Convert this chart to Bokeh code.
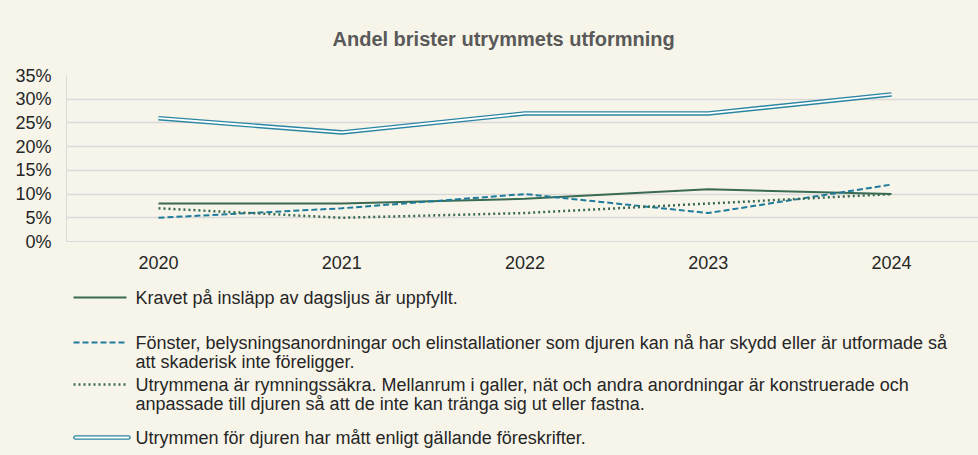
from bokeh.plotting import figure
from bokeh.layouts import column
from bokeh.models import Range1d, FixedTicker, NumeralTickFormatter, Title
from bokeh.core.properties import value
from bokeh.embed import file_html
from bokeh.resources import INLINE

years = [2020, 2021, 2022, 2023, 2024]
kravet = [8, 8, 9, 11, 10]
fonster = [5, 7, 10, 6, 12]
rymning = [7, 5, 6, 8, 10]
matt = [26, 23, 27, 27, 31]
y_ticks = [0, 5, 10, 15, 20, 25, 30, 35]

labels = [
    ["Kravet på insläpp av dagsljus är uppfyllt."],
    ["Fönster, belysningsanordningar och elinstallationer som djuren kan nå har skydd eller är utformade så",
     "att skaderisk inte föreligger."],
    ["Utrymmena är rymningssäkra. Mellanrum i galler, nät och andra anordningar är konstruerade och",
     "anpassade till djuren så att de inte kan tränga sig ut eller fastna."],
    ["Utrymmen för djuren har mått enligt gällande föreskrifter."],
]
title_text = "Andel brister utrymmets utformning"

BG = "#F7F5EA"
GREEN = "#3A6B52"
BLUE = "#1E7B9C"
BLUE2 = "#2A86A2"
GRID = "#D9D9D9"
FONT = "Liberation Sans"
W = 978

def pct(vals):
    return [v / 100 for v in vals]

p = figure(width=W, height=275, x_range=Range1d(2019.498, 2024.475), y_range=Range1d(0, 0.35),
           output_backend="svg", toolbar_location=None,
           background_fill_color=BG, border_fill_color=BG,
           min_border_left=66, min_border_right=0, min_border_top=74, min_border_bottom=34)
p.outline_line_color = None
p.title = Title(text=title_text, align="left", text_font=FONT, text_font_size="20px",
                text_font_style="bold", text_color="#595959", offset=266, standoff=51)

p.xaxis.ticker = FixedTicker(ticks=years)
p.xaxis.axis_line_color = GRID
p.xaxis.major_tick_line_color = None
p.xaxis.minor_tick_line_color = None
p.xaxis.major_label_standoff = 8
p.xaxis.major_label_text_font = FONT
p.xaxis.major_label_text_font_size = "18px"
p.xaxis.major_label_text_color = "#262626"

p.yaxis.ticker = FixedTicker(ticks=[t / 100 for t in y_ticks])
p.yaxis.formatter = NumeralTickFormatter(format="0%")
p.yaxis.axis_line_color = GRID
p.yaxis.major_tick_line_color = None
p.yaxis.minor_tick_line_color = None
p.yaxis.major_label_standoff = 9
p.yaxis.major_label_text_font = FONT
p.yaxis.major_label_text_font_size = "18px"
p.yaxis.major_label_text_color = "#262626"

p.xgrid.grid_line_color = None
p.ygrid.grid_line_color = GRID
p.ygrid.grid_line_width = 1.5

p.line(years, pct(kravet), line_color=GREEN, line_width=2)
p.line(years, pct(fonster), line_color=BLUE, line_width=2, line_dash="6 3")
p.line(years, pct(rymning), line_color=GREEN, line_width=2.5, line_dash="2 3")
p.line(years, pct(matt), line_color=BLUE2, line_width=4.6)
p.line(years, pct(matt), line_color="#FFFFFF", line_width=1.8)

# legend panel (coordinates in page pixels)
lf = figure(width=W, height=180, x_range=Range1d(66, W), y_range=Range1d(455, 275),
            output_backend="svg", toolbar_location=None,
            background_fill_color=BG, border_fill_color=BG,
            min_border_left=66, min_border_right=0, min_border_top=0, min_border_bottom=0,
            x_axis_location=None, y_axis_location=None)
lf.outline_line_color = None
lf.grid.grid_line_color = None

item_y = [297, 342, 384, 437]
line_h = 19.5
lx0, lx1, tx = 73, 126, 135

lf.segment([lx0], [item_y[0]], [lx1], [item_y[0]], line_color=GREEN, line_width=2)
lf.segment([lx0], [item_y[1]], [lx1], [item_y[1]], line_color=BLUE, line_width=2, line_dash="6 3")
lf.segment([lx0], [item_y[2]], [lx1], [item_y[2]], line_color=GREEN, line_width=2.5, line_dash="2 3")
lf.segment([lx0 + 2], [item_y[3]], [lx1 + 2], [item_y[3]], line_color=BLUE2, line_width=4.6, line_cap="round")
lf.segment([lx0 + 2], [item_y[3]], [lx1 + 2], [item_y[3]], line_color="#FFFFFF", line_width=1.8, line_cap="round")

tx_list, ty_list, tt_list = [], [], []
for yy, lines in zip(item_y, labels):
    for i, ln in enumerate(lines):
        tx_list.append(tx)
        ty_list.append(yy + i * line_h)
        tt_list.append(ln)
lf.text(tx_list, ty_list, text=tt_list, text_font=value(FONT), text_font_size="18px",
        text_color="#262626", text_baseline="middle", text_align="left")

layout = column(p, lf, spacing=0, styles={"background-color": BG})
open("out.html", "w").write(file_html(layout, INLINE))
